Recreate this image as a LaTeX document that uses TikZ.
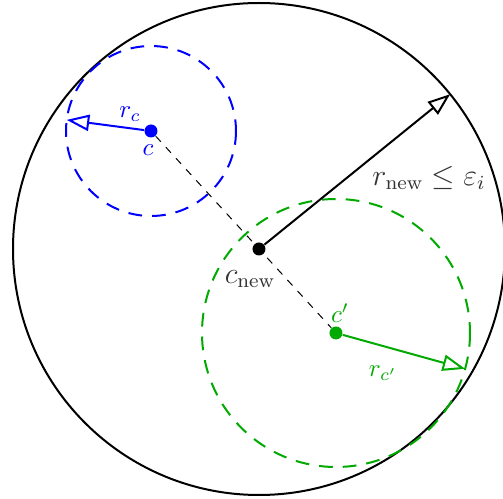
\documentclass[tikz,border=0pt]{standalone}
\usepackage{amsmath,amssymb}
\usetikzlibrary{arrows.meta,calc}
\definecolor{BallBlue}{HTML}{0000FF}
\definecolor{BallGreen}{HTML}{00AA00}
\definecolor{LabelGray}{HTML}{333333}

\begin{document}
\begin{tikzpicture}[x=0.4pt,y=-0.4pt,
    dot/.style={circle,fill,inner sep=0pt,minimum size=5.2pt},
    ball/.style={dash pattern=on 5.5pt off 4pt,thick},
    rad/.style={-{Triangle[open,length=9pt,width=6.5pt]},thick},
    lbl/.style={font=\large}]
    \useasboundingbox (0,0) rectangle (503,499);
    % outer ball
    \draw[thick] (259,249) circle (246);
    \node[dot] (cnew) at (259,249) {};
    % merged balls
    \node[dot,BallBlue] (c) at (151,131) {};
    \node[dot,BallGreen] (cp) at (336,333) {};
    \draw[ball,BallBlue] (c) circle (85);
    \draw[ball,BallGreen] (cp) circle (134);
    \draw[dashed,thin] (c) -- (cp);
    % radii
    \coordinate (rnewend) at ($(cnew)+(-39:246)$);
    \coordinate (rcend) at ($(c)+(187.5:85)$);
    \coordinate (rcpend) at ($(cp)+(15.5:134)$);
    \draw[rad] (cnew) -- (rnewend);
    \draw[rad,BallBlue] (c) -- (rcend);
    \draw[rad,BallGreen] (cp) -- (rcpend);
    % labels
    \node[lbl,text=LabelGray] (rnewlbl) at (429,178) {$r_{\text{new}}\leq\varepsilon_i$};
    \node[lbl,text=LabelGray] (cnewlbl) at (250,279) {$c_{\text{new}}$};
    \node[BallBlue] (clbl) at (148,150) {$c$};
    \node[BallBlue] (rclbl) at (130,114) {$r_c$};
    \node[BallGreen] (cplbl) at (340,313) {$c'$};
    \node[BallGreen] (rcplbl) at (383,373) {$r_{c'}$};
\end{tikzpicture}
\end{document}
